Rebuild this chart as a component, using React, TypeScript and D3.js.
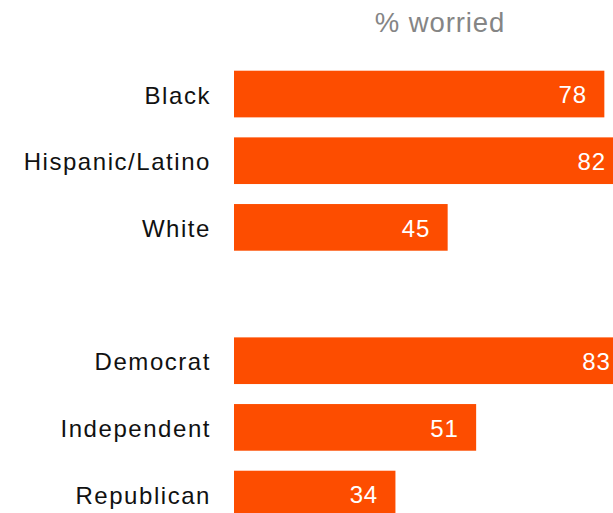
import React from "react";
import * as d3 from "d3";

const categories = ["Black", "Hispanic/Latino", "White", "", "Democrat", "Independent", "Republican"];
const values: (number | null)[] = [78, 82, 45, null, 83, 51, 34];
const title = "% worried";

const W = 613;
const H = 513;
const FONT = "'Liberation Sans', Arial, Helvetica, sans-serif";
const BAR = "#FD4D00";

export default function App() {
  const keys = categories.map((c, i) => `${i}:${c}`);
  const y = d3
    .scaleBand<string>()
    .domain(keys)
    .range([60.7, 60.7 + 7 * 66.67])
    .paddingInner(0.3)
    .paddingOuter(0.15);
  const x = d3.scaleLinear().domain([0, 100]).range([234, 234 + 474.8]);
  const bw = y.bandwidth();

  return (
    <svg
      width={W}
      height={H}
      style={{ position: "absolute", left: 0, top: 0, display: "block" }}
      fontFamily={FONT}
    >
      <text x={440} y={32} textAnchor="middle" fontSize={27.5} fill="#858585" letterSpacing={0.9}>
        {title}
      </text>
      {categories.map((c, i) => {
        const v = values[i];
        if (v == null || c === "") return null;
        const y0 = y(keys[i])!;
        const cy = y0 + bw / 2;
        return (
          <g key={keys[i]}>
            <text x={211} y={cy + 9.5} textAnchor="end" fontSize={24} fill="#111" letterSpacing={1.55}>
              {c}
            </text>
            <rect x={x(0)} y={y0} width={x(v) - x(0)} height={bw} fill={BAR} />
            <text x={x(v) - 17.5} y={cy + 9.3} textAnchor="end" fontSize={24} fill="#fff" letterSpacing={0.8}>
              {v}
            </text>
          </g>
        );
      })}
    </svg>
  );
}
